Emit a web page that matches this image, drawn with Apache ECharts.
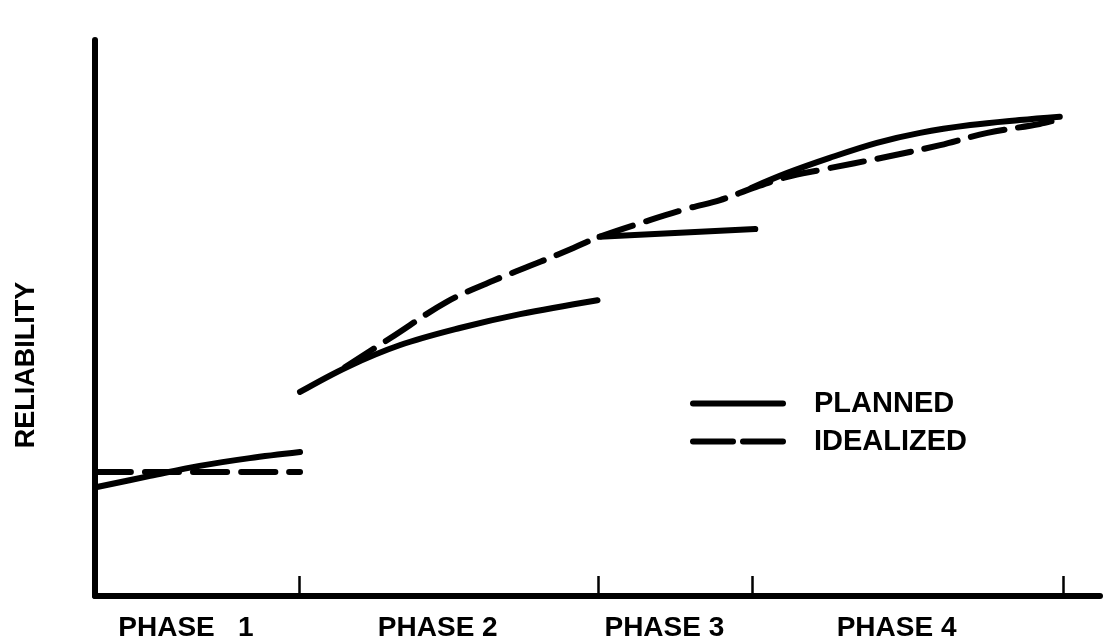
<!DOCTYPE html>
<html>
<head>
<meta charset="utf-8">
<script src="https://cdn.jsdelivr.net/npm/echarts@6/dist/echarts.min.js"></script>
<style>
html,body{margin:0;padding:0;background:#fff;}
#chart{width:1111px;height:640px;}
</style>
</head>
<body>
<div id="chart"></div>
<script>
// Phase boundaries (time units) and labels
const phaseEnds = [20.3, 50.1, 65.4, 96.3];
const phaseLabels = ['PHASE   1', 'PHASE 2', 'PHASE 3', 'PHASE 4'];

// PLANNED reliability, one segment per phase
const planned1 = [[0.2, 19.6], [5.5, 21.6], [10.4, 23.4], [15.4, 24.8], [20.4, 25.9]];
const planned2 = [[20.4, 36.7], [25.1, 41.2], [30.3, 45.1], [36.3, 48.2], [42.3, 50.7], [50.0, 53.2]];
const planned3 = [[50.2, 64.6], [65.7, 66.0]];
const planned4 = [[65.3, 73.4], [68.9, 76.1], [73.1, 78.8], [77.8, 81.5], [82.1, 83.3], [87.1, 84.7], [92.0, 85.6], [96.0, 86.2]];

// IDEALIZED reliability
const idealized1 = [[0.2, 22.3], [20.4, 22.3]];
const idealized2 = [[24.9, 41.2], [29.4, 46.4], [35.0, 52.9], [39.6, 56.7], [44.3, 60.1], [47.6, 62.6], [50.2, 64.6],
  [55.2, 67.6], [59.2, 69.8], [62.2, 71.2], [65.5, 73.4], [68.9, 75.4], [72.1, 76.6], [78.8, 79.0], [84.1, 81.1],
  [88.8, 83.3], [94.0, 84.9], [96.0, 85.8]];

const labelPositions = phaseEnds.map((e, i) => ((i === 0 ? 0 : phaseEnds[i - 1]) + e) / 2);

const FONT = '"Liberation Sans", Arial, sans-serif';
const LW = 6;

const solid = { color: '#000', width: LW, type: 'solid', cap: 'round', join: 'round' };
const dashed = { color: '#000', width: LW, type: [34, 14], cap: 'round', join: 'round' };

function seg(name, data, style) {
  return {
    type: 'line', name: name, data: data, smooth: 0.35, symbol: 'none',
    lineStyle: style, itemStyle: { color: '#000' }, silent: true, animation: false
  };
}

const hidden = { color: 'rgba(0,0,0,0)', borderWidth: 0, opacity: 0 };

const chart = echarts.init(document.getElementById('chart'));
chart.setOption({
  backgroundColor: '#fff',
  animation: false,
  grid: { left: 95, right: 11, top: 40, bottom: 44, outerBoundsMode: 'none', containLabel: false },
  xAxis: {
    type: 'value', min: 0, max: 100,
    axisLine: { show: true, onZero: false, lineStyle: { color: '#000', width: LW, cap: 'round' } },
    axisTick: { show: true, inside: true, length: 20, customValues: phaseEnds, lineStyle: { color: '#000', width: 2.5 } },
    axisLabel: {
      show: true, customValues: labelPositions, margin: 18,
      formatter: function (v) {
        let best = 0;
        labelPositions.forEach((p, i) => { if (Math.abs(p - v) < Math.abs(labelPositions[best] - v)) best = i; });
        return phaseLabels[best];
      },
      color: '#000', fontFamily: FONT, fontWeight: 'bold', fontSize: 28, padding: [0, 22, 0, 0]
    },
    splitLine: { show: false }
  },
  yAxis: {
    type: 'value', min: 0, max: 100,
    name: 'RELIABILITY', nameLocation: 'middle', nameGap: 55, nameRotate: 90,
    nameTextStyle: { color: '#000', fontFamily: FONT, fontWeight: 'bold', fontSize: 27, padding: [0, 94, 0, 0] },
    axisLine: { show: true, onZero: false, lineStyle: { color: '#000', width: LW, cap: 'round' } },
    axisTick: { show: false },
    axisLabel: { show: false },
    splitLine: { show: false }
  },
  legend: {
    orient: 'vertical', left: 685, top: 384,
    itemWidth: 90, itemHeight: 12, itemGap: 9,
    textStyle: { color: '#000', fontFamily: FONT, fontWeight: 'bold', fontSize: 29, padding: [0, 0, 0, 26] },
    data: [
      { name: 'PLANNED', itemStyle: hidden, lineStyle: { color: '#000', width: LW, type: 'solid', cap: 'round' } },
      { name: 'IDEALIZED', itemStyle: hidden, lineStyle: { color: '#000', width: LW, type: [40, 10], cap: 'round' } }
    ]
  },
  series: [
    seg('PLANNED', planned1, solid),
    seg('PLANNED', planned2, solid),
    seg('PLANNED', planned3, solid),
    seg('PLANNED', planned4, solid),
    seg('IDEALIZED', idealized1, dashed),
    seg('IDEALIZED', idealized2, dashed)
  ]
});
</script>
</body>
</html>
